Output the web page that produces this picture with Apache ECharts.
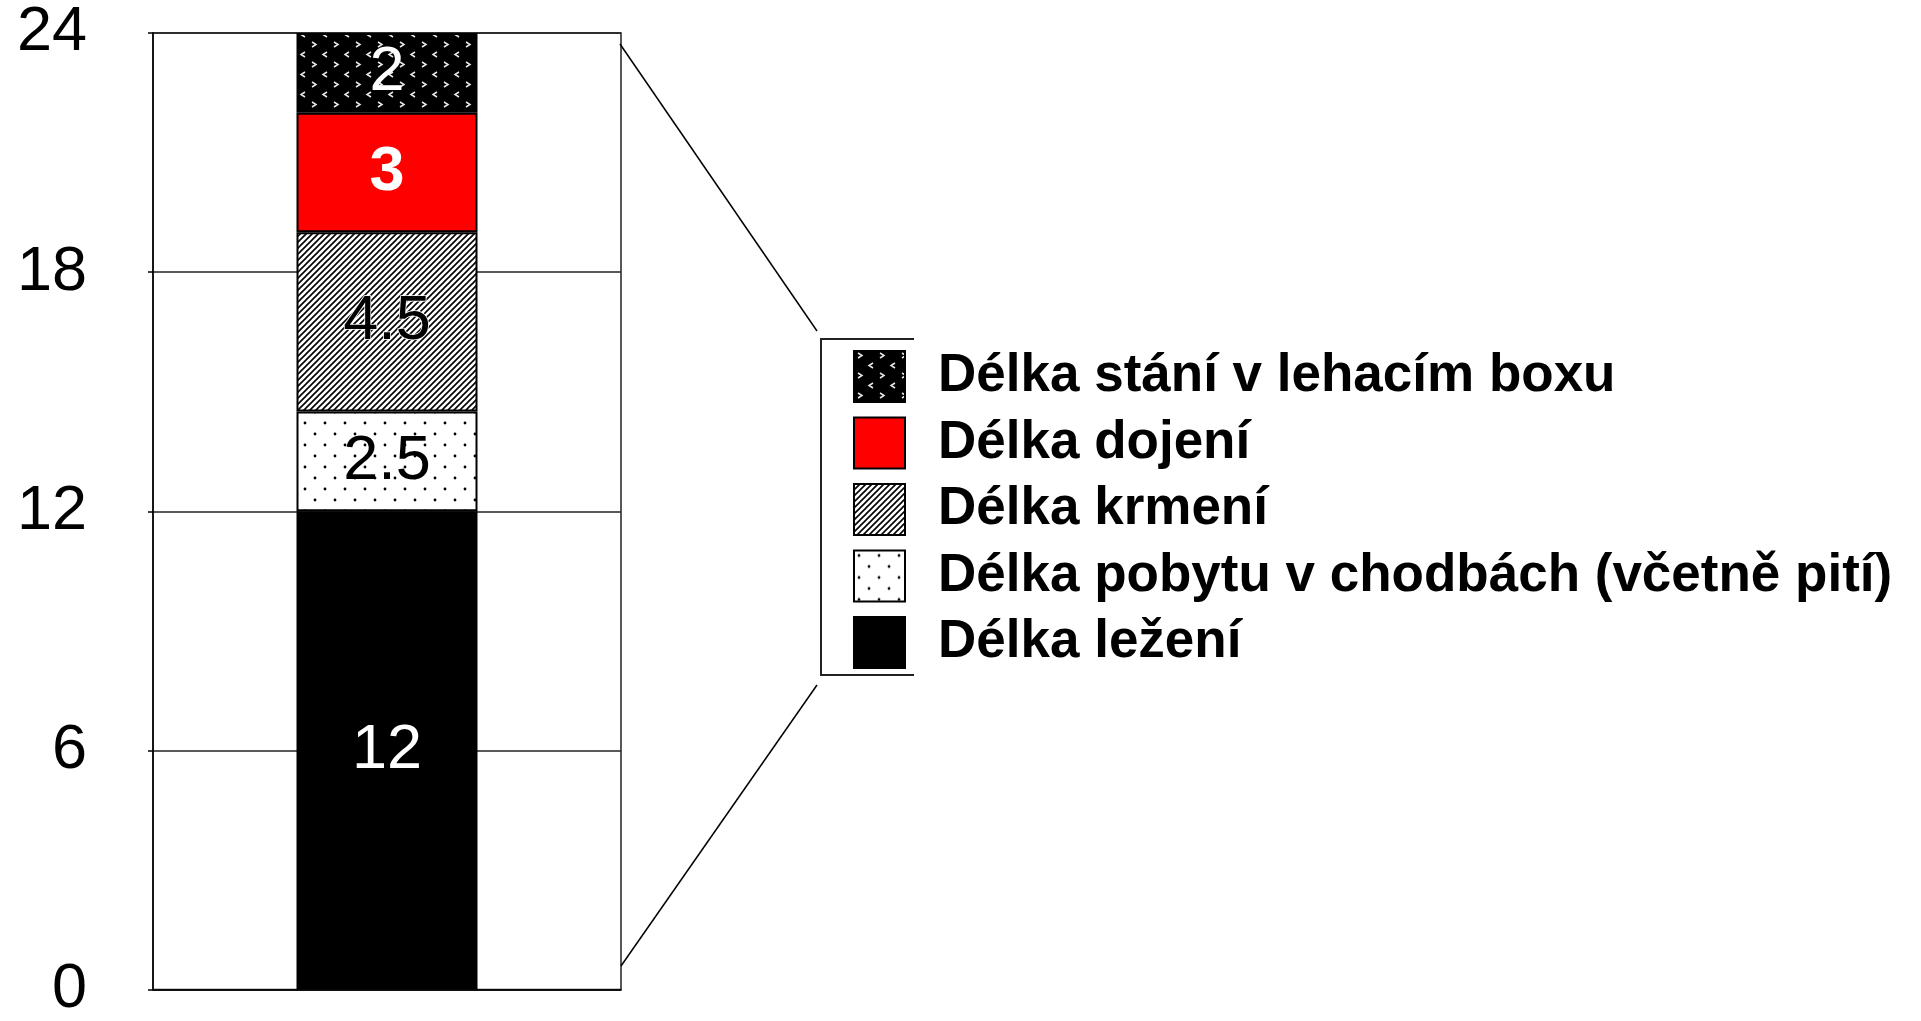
<!DOCTYPE html>
<html>
<head>
<meta charset="utf-8">
<script src="https://cdn.jsdelivr.net/npm/echarts@6/dist/echarts.min.js"></script>
<style>
html,body{margin:0;padding:0;background:#fff;}
#c{width:1921px;height:1021px;}
</style>
</head>
<body>
<div id="c"></div>
<script>
// ---- data ----
var categories = [''];
var seriesNames = [
  'Délka ležení',
  'Délka pobytu v chodbách (včetně pití)',
  'Délka krmení',
  'Délka dojení',
  'Délka stání v lehacím boxu'
];
var lezeni = [12];
var pobytu = [2.5];
var krmeni = [4.5];
var dojeni = [3];
var stani = [2];
var legendOrder = [
  'Délka stání v lehacím boxu',
  'Délka dojení',
  'Délka krmení',
  'Délka pobytu v chodbách (včetně pití)',
  'Délka ležení'
];
var yTicks = [0, 6, 12, 18, 24];

// ---- patterns ----
function tile(w, h, draw) {
  var c = document.createElement('canvas');
  c.width = w; c.height = h;
  var ctx = c.getContext('2d');
  draw(ctx, w, h);
  return { image: c, repeat: 'repeat' };
}
var chevronPattern = tile(22, 20, function (ctx, w, h) {
  ctx.fillStyle = '#000'; ctx.fillRect(0, 0, w, h);
  ctx.strokeStyle = '#e8e8e8'; ctx.lineWidth = 1.5;
  ctx.beginPath();
  ctx.moveTo(4, 2); ctx.lineTo(8, 4.5); ctx.lineTo(4, 7);
  ctx.moveTo(19, 12); ctx.lineTo(15, 14.5); ctx.lineTo(19, 17);
  ctx.stroke();
});
var hatchPattern = tile(6, 6, function (ctx, w, h) {
  ctx.fillStyle = '#fff'; ctx.fillRect(0, 0, w, h);
  ctx.strokeStyle = '#000'; ctx.lineWidth = 1.6;
  ctx.beginPath();
  ctx.moveTo(0, 6); ctx.lineTo(6, 0);
  ctx.moveTo(-1, 1); ctx.lineTo(1, -1);
  ctx.moveTo(5, 7); ctx.lineTo(7, 5);
  ctx.stroke();
});
var dotsPattern = tile(20, 22, function (ctx, w, h) {
  ctx.fillStyle = '#fff'; ctx.fillRect(0, 0, w, h);
  ctx.fillStyle = '#000';
  ctx.beginPath(); ctx.arc(5, 5, 1.4, 0, Math.PI * 2); ctx.fill();
  ctx.beginPath(); ctx.arc(15, 16, 1.4, 0, Math.PI * 2); ctx.fill();
});

var FONT = "'Liberation Sans', Arial, Helvetica, sans-serif";

function mk(name, data, fill, lab) {
  return {
    name: name,
    type: 'bar',
    stack: 'total',
    barWidth: 181,
    data: data,
    itemStyle: { color: fill, borderColor: '#000', borderWidth: 2 },
    label: Object.assign({
      show: true, position: 'inside', formatter: '{c}',
      fontFamily: FONT, fontSize: 63
    }, lab),
    emphasis: { disabled: true }
  };
}

var chart = echarts.init(document.getElementById('c'), null, { renderer: 'canvas' });
chart.setOption({
  animation: false,
  backgroundColor: '#fff',
  grid: {
    left: 153, right: 1300, top: 33, bottom: 30,
    show: true, borderColor: '#222', borderWidth: 1.5, backgroundColor: 'transparent'
  },
  xAxis: {
    type: 'category',
    data: categories,
    axisLine: { show: true, lineStyle: { color: '#000', width: 1.5 } },
    axisTick: { show: false },
    axisLabel: { show: false }
  },
  yAxis: {
    type: 'value',
    min: yTicks[0], max: yTicks[yTicks.length - 1], interval: 6,
    axisLine: { show: true, lineStyle: { color: '#000', width: 1.5 } },
    axisTick: { show: true, length: 5, lineStyle: { color: '#000', width: 1.5 } },
    splitLine: { show: true, lineStyle: { color: '#222', width: 1.5 } },
    axisLabel: { color: '#000', fontFamily: FONT, fontSize: 63, margin: 66 }
  },
  legend: {
    orient: 'vertical',
    left: 848, top: 345,
    data: legendOrder,
    icon: 'rect',
    itemWidth: 51, itemHeight: 51, itemGap: 13.5,
    selectedMode: false,
    textStyle: {
      color: '#000', fontFamily: FONT, fontSize: 53, fontWeight: 'bold',
      lineHeight: 46, padding: [5, 0, 0, 28]
    }
  },
  graphic: [
    { type: 'line', shape: { x1: 620, y1: 44, x2: 817, y2: 331 }, style: { stroke: '#000', lineWidth: 1.5 } },
    { type: 'line', shape: { x1: 621, y1: 966, x2: 817, y2: 685 }, style: { stroke: '#000', lineWidth: 1.5 } },
    { type: 'polyline', shape: { points: [[914, 339], [821, 339], [821, 675], [914, 675]] }, style: { stroke: '#222', lineWidth: 2, fill: null } }
  ],
  series: [
    mk(seriesNames[0], lezeni, '#000', { color: '#fff' }),
    mk(seriesNames[1], pobytu, dotsPattern, { color: '#000' }),
    mk(seriesNames[2], krmeni, hatchPattern, { color: '#000', textBorderColor: '#fff', textBorderWidth: 1.5 }),
    mk(seriesNames[3], dojeni, '#ff0000', { color: '#fff', fontWeight: 'bold' }),
    mk(seriesNames[4], stani, chevronPattern, { color: '#fff' })
  ]
});
</script>
</body>
</html>
